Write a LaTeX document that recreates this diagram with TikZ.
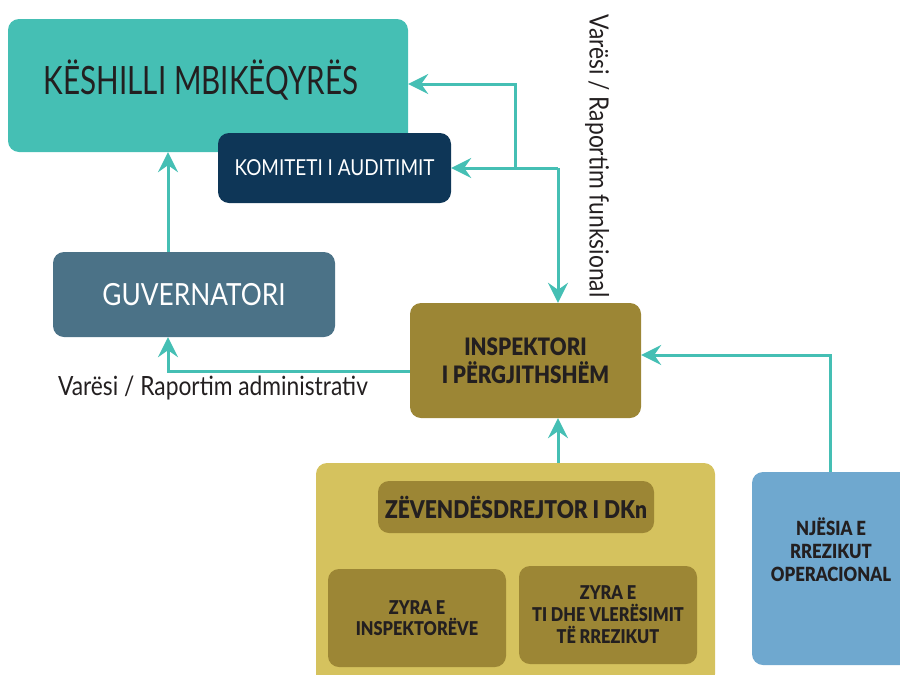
\documentclass[tikz,border=0pt]{standalone}
\usepackage{fontspec}
\setmainfont{Lato}
\newfontfamily\cnd[FakeStretch=0.86]{Lato}
\newfontfamily\ttl[FakeStretch=0.76]{Lato}
\newfontfamily\blk[FakeStretch=0.86]{Lato Black}
\usetikzlibrary{arrows.meta,calc}
\definecolor{cTeal}{HTML}{45BFB4}
\definecolor{cNavy}{HTML}{0E3657}
\definecolor{cGuv}{HTML}{4B7287}
\definecolor{cOlive}{HTML}{9C8635}
\definecolor{cYel}{HTML}{D5C25E}
\definecolor{cBlue}{HTML}{6FA8CF}
\definecolor{cTxt}{HTML}{231F20}
\begin{document}
\begin{tikzpicture}[x=1pt,y=-1pt,
  box/.style={rectangle, rounded corners=11pt, inner sep=0pt},
  arr/.style={draw=cTeal, line width=3pt, -{Stealth[length=20pt,width=20pt,inset=7pt]}},
  lbl/.style={text=cTxt, font=\cnd\fontsize{26.5}{30}\selectfont, inner sep=0pt},
  btxt/.style={text=cTxt, align=center, inner sep=0pt}]
\useasboundingbox (0,0) rectangle (900,675);
\clip (0,0) rectangle (900,675);
% boxes
\node[box, fill=cTeal, minimum width=400pt, minimum height=133pt] (kes) at (208,85.5) {};
\node[text=cTxt, font=\ttl\fontsize{39}{42}\selectfont, inner sep=0pt] (kest) at (201,80) {KËSHILLI MBIKËQYRËS};
\node[box, fill=cNavy, minimum width=233pt, minimum height=70pt, text=white, font=\cnd\fontsize{22}{24}\selectfont] (kom) at (334.5,168) {KOMITETI I AUDITIMIT};
\node[box, fill=cGuv, minimum width=282pt, minimum height=85pt, text=white, font=\cnd\fontsize{30.5}{32}\selectfont] (guv) at (194,294.5) {GUVERNATORI};
\node[box, fill=cOlive, minimum width=231pt, minimum height=115pt, btxt, font=\blk\fontsize{24}{28}\selectfont] (insp) at (525.5,360.5) {INSPEKTORI\\I PËRGJITHSHËM};
\node[box, fill=cYel, minimum width=399pt, minimum height=222pt] (outer) at (515.5,574) {};
\node[box, fill=cOlive, minimum width=276pt, minimum height=52pt, btxt, font=\blk\fontsize{24.5}{28}\selectfont] (zev) at (516,507) {ZËVENDËSDREJTOR I DKn};
\node[box, fill=cOlive, minimum width=178pt, minimum height=98pt, btxt, font=\blk\fontsize{19}{21}\selectfont] (zy1) at (417,618) {ZYRA E\\INSPEKTORËVE};
\node[box, fill=cOlive, minimum width=178pt, minimum height=98pt, btxt, font=\blk\fontsize{19}{22}\selectfont] (zy2) at (608,615) {ZYRA E\\TI DHE VLERËSIMIT\\TË RREZIKUT};
\node[box, fill=cBlue, minimum width=163pt, minimum height=193pt] (nje) at (833.5,568.5) {};
\node[btxt, font=\blk\fontsize{19.5}{23}\selectfont] (njet) at (831,550) {NJËSIA E\\RREZIKUT\\OPERACIONAL};
% labels
\node[lbl, rotate=-90] (lf) at (597,156) {Varësi / Raportim funksional};
\node[lbl] (la) at (213,388) {Varësi / Raportim administrativ};
% helper coordinates
\coordinate (xg) at (168,0);
\coordinate (ya) at (0,371);
\coordinate (j) at (558,168);
\coordinate (j2) at (515,168);
\coordinate (yk) at (0,84);
\coordinate (xn) at (830,0);
\coordinate (yn) at (0,355);
% connectors
\draw[arr] (xg |- guv.north) -- (xg |- kes.south);
\draw[arr] (insp.west |- ya) -| (xg |- guv.south);
\draw[arr] (j2) |- (kes.east |- yk);
\draw[arr] (j) -- (kom.east |- j);
\draw[arr] (j) -- (j |- insp.north);
\draw[arr] (xn |- nje.north) |- (insp.east |- yn);
\draw[arr] (j |- outer.north) -- (j |- insp.south);
\end{tikzpicture}
\end{document}
